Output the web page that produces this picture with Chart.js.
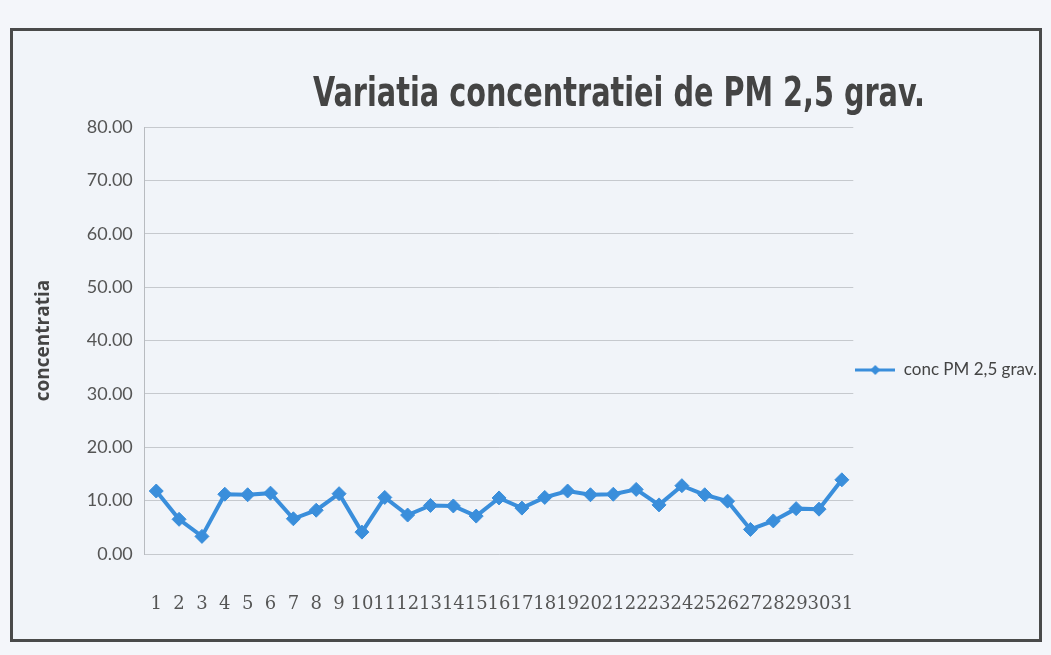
<!DOCTYPE html>
<html>
<head>
<meta charset="utf-8">
<script src="https://cdn.jsdelivr.net/npm/chart.js@4.4.1/dist/chart.umd.min.js"></script>
<style>
    html, body { margin: 0; padding: 0; background: #f4f6fa; }
    #frame {
        position: absolute; left: 10px; top: 28px; width: 1026px; height: 608px;
        border: 3px solid #4a4a4a; background: #f1f4f9;
    }
    #wrap { position: absolute; left: 0; top: 0; width: 1051px; height: 655px; }
</style>
</head>
<body>
<div id="frame"></div>
<div id="wrap"><canvas id="pmChart" width="1051" height="655"></canvas></div>
<script>
    const days = ['1', '2', '3', '4', '5', '6', '7', '8', '9', '10', '11', '12', '13', '14', '15', '16',
        '17', '18', '19', '20', '21', '22', '23', '24', '25', '26', '27', '28', '29', '30', '31'];
    const pmValues = [11.8, 6.5, 3.3, 11.2, 11.1, 11.4, 6.6, 8.2, 11.3, 4.1, 10.6, 7.3, 9.1, 9.0, 7.1, 10.5,
        8.6, 10.6, 11.8, 11.1, 11.2, 12.1, 9.2, 12.8, 11.1, 9.9, 4.6, 6.2, 8.5, 8.4, 13.9];
    const seriesName = 'conc PM 2,5 grav.';
    const chartTitle = 'Variatia concentratiei de PM 2,5 grav.';
    const yTitle = 'concentratia';

    const blue = '#3a8edb';

    // little line + diamond icon for the legend, like Excel's
    const legendIcon = document.createElement('canvas');
    legendIcon.width = 40;
    legendIcon.height = 14;
    (function() {
        const c = legendIcon.getContext('2d');
        c.strokeStyle = blue;
        c.lineWidth = 3;
        c.beginPath();
        c.moveTo(0, 7);
        c.lineTo(40, 7);
        c.stroke();
        c.fillStyle = blue;
        c.beginPath();
        c.moveTo(20, 2);
        c.lineTo(25, 7);
        c.lineTo(20, 12);
        c.lineTo(15, 7);
        c.closePath();
        c.fill();
    })();

    // title sits off-centre in the original, so draw it ourselves (narrow bold, squeezed to fit)
    const titlePlugin = {
        id: 'offTitle',
        afterDraw(chart) {
            const ctx = chart.ctx;
            ctx.save();
            ctx.font = 'bold 40px "DejaVu Sans Condensed", "DejaVu Sans", sans-serif';
            const w = ctx.measureText(chartTitle).width;
            const sx = 612 / w;
            ctx.translate(619, 106);
            ctx.scale(sx, 1);
            ctx.fillStyle = '#444';
            ctx.textAlign = 'center';
            ctx.textBaseline = 'alphabetic';
            ctx.fillText(chartTitle, 0, 0);
            ctx.restore();
        }
    };

    const ctx = document.getElementById('pmChart').getContext('2d');
    new Chart(ctx, {
        type: 'line',
        data: {
            labels: days,
            datasets: [{
                label: seriesName,
                data: pmValues,
                borderColor: blue,
                backgroundColor: blue,
                borderWidth: 4,
                tension: 0,
                pointStyle: 'rectRot',
                pointRadius: 7,
                pointBackgroundColor: blue,
                pointBorderColor: blue,
                pointBorderWidth: 1
            }]
        },
        options: {
            responsive: false,
            animation: false,
            layout: { padding: { top: 127, left: 30, right: 4, bottom: 42 } },
            plugins: {
                title: { display: false },
                tooltip: { enabled: false },
                legend: {
                    position: 'right',
                    labels: {
                        usePointStyle: true,
                        pointStyle: legendIcon,
                        pointStyleWidth: 40,
                        color: '#444',
                        padding: 2,
                        font: { family: 'Lato, sans-serif', size: 17 }
                    }
                }
            },
            scales: {
                x: {
                    offset: true,
                    grid: { display: false, drawTicks: false },
                    border: { display: false },
                    afterFit: scale => { scale.height = 59; },
                    ticks: {
                        autoSkip: false,
                        maxRotation: 0,
                        padding: 40,
                        color: '#555',
                        font: { family: '"DejaVu Serif", serif', size: 18 }
                    }
                },
                y: {
                    min: 0,
                    max: 80,
                    grid: { color: '#c6c9ce', drawTicks: false },
                    border: { display: true, color: '#b8bbc0' },
                    ticks: {
                        stepSize: 10,
                        padding: 12,
                        color: '#555',
                        font: { family: 'Lato, sans-serif', size: 18 },
                        callback: v => v.toFixed(2)
                    },
                    title: {
                        display: true,
                        text: yTitle,
                        color: '#444',
                        padding: { top: 2, bottom: 20 },
                        font: { family: '"Open Sans", sans-serif', size: 19, weight: 'bold' }
                    }
                }
            }
        },
        plugins: [titlePlugin]
    });
</script>
</body>
</html>
